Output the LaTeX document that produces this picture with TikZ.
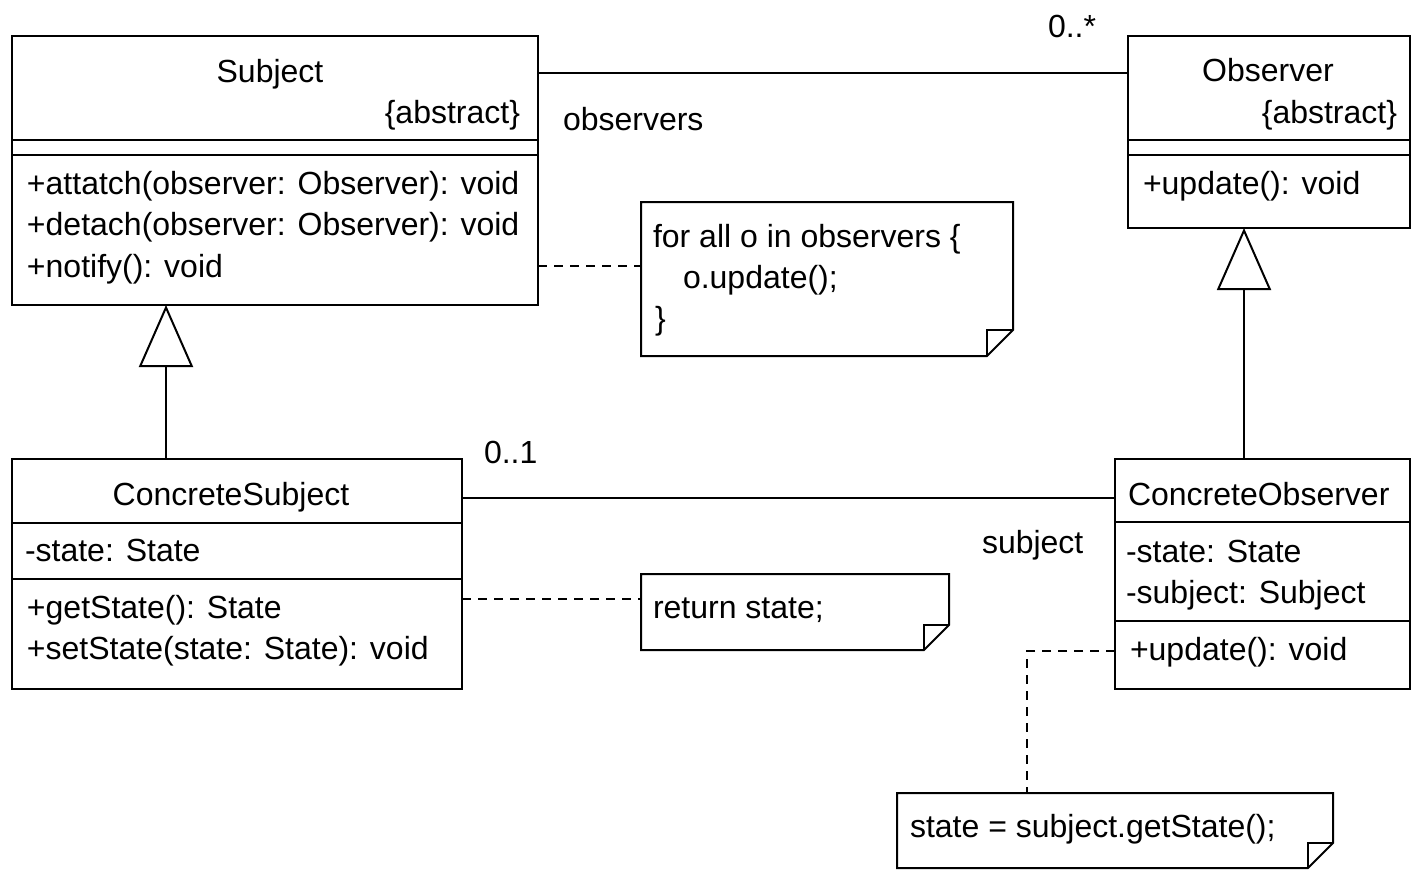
\documentclass[tikz,border=0pt]{standalone}
\usepackage{fontspec}
\setmainfont{Liberation Sans}
\usetikzlibrary{arrows.meta,calc}
\begin{document}
\begin{tikzpicture}[x=1pt,y=-1pt,
  font=\fontsize{32}{38}\selectfont,
  cls/.style={draw, line width=2pt, inner sep=0pt, outer sep=0pt, anchor=north west},
  notebox/.style={inner sep=0pt, outer sep=0pt, anchor=north west},
  ln/.style={line width=2pt},
  txt/.style={inner sep=0pt, outer sep=0pt, anchor=base west},
  ttl/.style={inner sep=0pt, outer sep=0pt, anchor=base},
  rtxt/.style={inner sep=0pt, outer sep=0pt, anchor=base east},
  dsh/.style={line width=2pt, dash pattern=on 9pt off 7pt},
  gen/.style={line width=2pt, -{Triangle[open,length=62pt,width=54pt,fill=white]}}
]
\useasboundingbox (0,0) rectangle (1412,872);

% ---- class boxes
\node[cls, minimum width=526pt, minimum height=269pt] (subj) at (12,36) {};
\node[cls, minimum width=282pt, minimum height=192pt] (obs) at (1128,36) {};
\node[cls, minimum width=450pt, minimum height=230pt] (cs) at (12,459) {};
\node[cls, minimum width=295pt, minimum height=230pt] (co) at (1115,459) {};

% compartments
\draw[ln] ($(subj.north west)+(0,104)$) -- ($(subj.north east)+(0,104)$);
\draw[ln] ($(subj.north west)+(0,119)$) -- ($(subj.north east)+(0,119)$);
\draw[ln] ($(obs.north west)+(0,104)$) -- ($(obs.north east)+(0,104)$);
\draw[ln] ($(obs.north west)+(0,119)$) -- ($(obs.north east)+(0,119)$);
\draw[ln] ($(cs.north west)+(0,64)$) -- ($(cs.north east)+(0,64)$);
\draw[ln] ($(cs.north west)+(0,120)$) -- ($(cs.north east)+(0,120)$);
\draw[ln] ($(co.north west)+(0,63)$) -- ($(co.north east)+(0,63)$);
\draw[ln] ($(co.north west)+(0,162)$) -- ($(co.north east)+(0,162)$);

% ---- notes
\node[notebox, minimum width=372pt, minimum height=154pt] (n1) at (641,202) {};
\node[notebox, minimum width=308pt, minimum height=76pt] (n2) at (641,574) {};
\node[notebox, minimum width=436pt, minimum height=75pt] (n3) at (897,793) {};

\draw[ln] (n1.north west) -- (n1.north east) -- ($(n1.south east)+(0,-26)$) -- ($(n1.south east)+(-26,0)$) -- (n1.south west) -- cycle;
\draw[ln] ($(n1.south east)+(0,-26)$) -- ($(n1.south east)+(-26,-26)$) -- ($(n1.south east)+(-26,0)$);
\draw[ln] (n2.north west) -- (n2.north east) -- ($(n2.south east)+(0,-25)$) -- ($(n2.south east)+(-25,0)$) -- (n2.south west) -- cycle;
\draw[ln] ($(n2.south east)+(0,-25)$) -- ($(n2.south east)+(-25,-25)$) -- ($(n2.south east)+(-25,0)$);
\draw[ln] (n3.north west) -- (n3.north east) -- ($(n3.south east)+(0,-25)$) -- ($(n3.south east)+(-25,0)$) -- (n3.south west) -- cycle;
\draw[ln] ($(n3.south east)+(0,-25)$) -- ($(n3.south east)+(-25,-25)$) -- ($(n3.south east)+(-25,0)$);

% ---- connectors
\draw[ln] ($(subj.north east)+(0,37)$) -- ($(obs.north west)+(0,37)$);
\draw[ln] ($(cs.north east)+(0,39)$) -- ($(co.north west)+(0,39)$);
\draw[gen] ($(cs.north west)+(154,0)$) -- ($(subj.south west)+(154,0)$);
\draw[gen] ($(co.north west)+(129,0)$) -- ($(obs.south west)+(116,0)$);
\draw[dsh] ($(subj.south east)+(0,-39)$) -- ($(n1.north west)+(0,64)$);
\draw[dsh] ($(cs.south east)+(0,-90)$) -- ($(n2.north west)+(0,25)$);
\draw[dsh] ($(co.south west)+(0,-38)$) -| ($(n3.north west)+(130,0)$);

% ---- texts
\node[ttl] (subjT) at (270,83) {Subject};
\node[rtxt] (subjA) at (520,124) {\{abstract\}};
\node[txt] (subjM1) at (27,194) {+attatch(observer: Observer): void};
\node[txt] (subjM2) at (27,235) {+detach(observer: Observer): void};
\node[txt] (subjM3) at (27,277) {+notify(): void};

\node[ttl] (obsT) at (1268,82) {Observer};
\node[rtxt] (obsA) at (1397,124) {\{abstract\}};
\node[txt] (obsM1) at (1143,194) {+update(): void};

\node[ttl] (csT) at (231,505) {ConcreteSubject};
\node[txt] (csA1) at (25,561) {-state: State};
\node[txt] (csM1) at (27,618) {+getState(): State};
\node[txt] (csM2) at (27,659) {+setState(state: State): void};

\node[txt] (coT) at (1128,505) {ConcreteObserver};
\node[txt] (coA1) at (1126,562) {-state: State};
\node[txt] (coA2) at (1126,603) {-subject: Subject};
\node[txt] (coM1) at (1130,660) {+update(): void};

\node[txt] (n1a) at (653,247) {for all o in observers \{};
\node[txt] (n1b) at (683,288) {o.update();};
\node[txt] (n1c) at (655,329) {\}};
\node[txt] (n2a) at (653,618) {return state;};
\node[txt] (n3a) at (910,837) {state = subject.getState();};

\node[txt] (m1) at (1048,38) {0..*};
\node[txt] (r1) at (563,131) {observers};
\node[txt] (m2) at (484,463) {0..1};
\node[txt] (r2) at (982,553) {subject};
\end{tikzpicture}
\end{document}
